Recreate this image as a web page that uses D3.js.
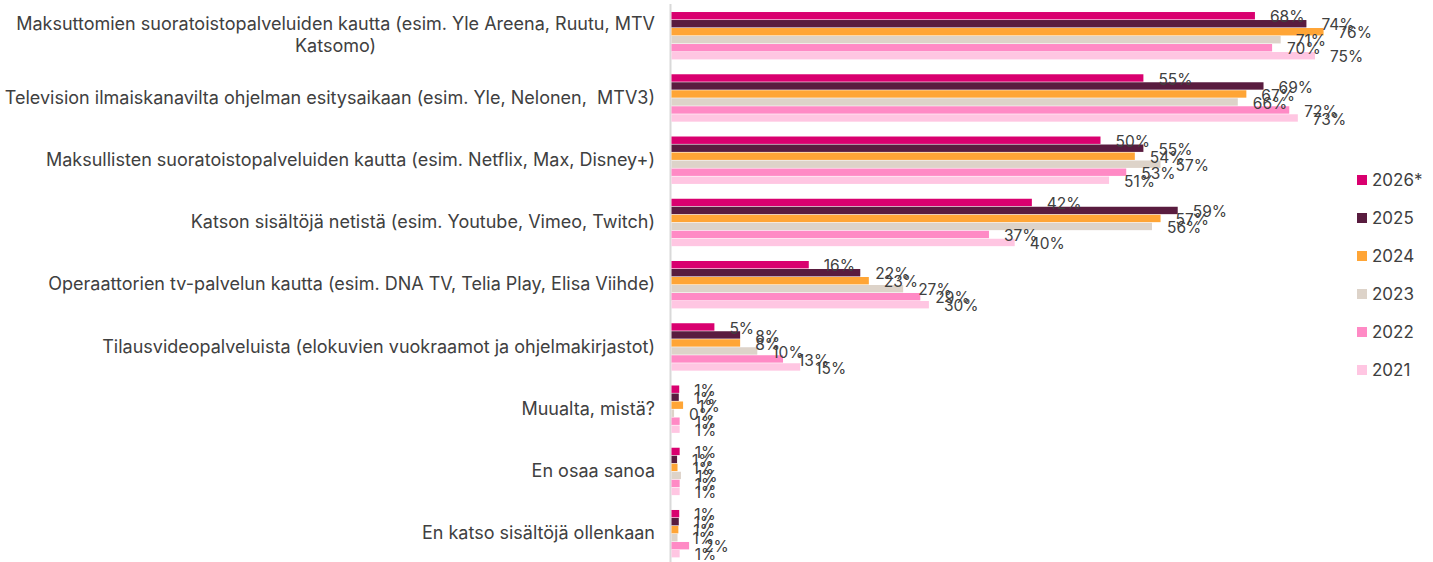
<!DOCTYPE html>
<html>
<head>
<meta charset="utf-8">
<script src="https://cdn.jsdelivr.net/npm/d3@7"></script>
<style>
  html, body { margin: 0; padding: 0; background: #fff; }
  svg { display: block; }
  text { white-space: pre; }
</style>
</head>
<body>
<svg id="chart" width="1433" height="562"></svg>
<script>
// ---- data ----
const categories = [
  ["Maksuttomien suoratoistopalveluiden kautta (esim. Yle Areena, Ruutu, MTV", "Katsomo)"],
  ["Television ilmaiskanavilta ohjelman esitysaikaan (esim. Yle, Nelonen,  MTV3)"],
  ["Maksullisten suoratoistopalveluiden kautta (esim. Netflix, Max, Disney+)"],
  ["Katson sisältöjä netistä (esim. Youtube, Vimeo, Twitch)"],
  ["Operaattorien tv-palvelun kautta (esim. DNA TV, Telia Play, Elisa Viihde)"],
  ["Tilausvideopalveluista (elokuvien vuokraamot ja ohjelmakirjastot)"],
  ["Muualta, mistä?"],
  ["En osaa sanoa"],
  ["En katso sisältöjä ollenkaan"]
];
const seriesNames = ["2026*", "2025", "2024", "2023", "2022", "2021"];
const seriesColors = ["#D9006F", "#591C3F", "#FFA536", "#DDD3C9", "#FF8AC5", "#FFC6E2"];
// values in percent, one array per series (same order as categories)
const v2026 = [68, 55, 50, 42, 16, 5, 0.9, 0.95, 0.9];
const v2025 = [74, 69, 55, 59, 22, 8, 0.85, 0.65, 0.85];
const v2024 = [76, 67, 54, 57, 23, 8, 1.35, 0.7, 0.8];
const v2023 = [71, 66, 57, 56, 27, 10, 0.3, 1.1, 0.7];
const v2022 = [70, 72, 53, 37, 29, 13, 0.95, 0.95, 2.05];
const v2021 = [75, 73, 51, 40, 30, 15, 0.95, 0.95, 0.95];
const seriesValues = [v2026, v2025, v2024, v2023, v2022, v2021];

// ---- layout ----
const svg = d3.select("#chart");
const font = "Inter, 'Noto Sans', sans-serif";
const catSize = 18;
const x = d3.scaleLinear().domain([0, 80]).range([671.5, 671.5 + 686.4]);
const keys = categories.map((c, i) => i);
const y0 = d3.scaleBand().domain(keys).range([4.9, 565.1]).padding(0);
const y1 = d3.scaleBand().domain(seriesNames).range([-24, 24]).padding(0);

// axis line
svg.append("line")
  .attr("x1", 670.5).attr("x2", 670.5)
  .attr("y1", 4).attr("y2", 562)
  .attr("stroke", "#D9D9D9").attr("stroke-width", 2);

// bars
const groups = svg.selectAll("g.grp").data(keys).enter().append("g")
  .attr("class", "grp")
  .attr("transform", d => `translate(0,${y0(d) + y0.bandwidth() / 2})`);

seriesNames.forEach((s, si) => {
  groups.append("rect")
    .attr("x", x(0))
    .attr("y", d => y1(s))
    .attr("width", d => x(seriesValues[si][d]) - x(0))
    .attr("height", y1.bandwidth() - 0.6)
    .attr("fill", seriesColors[si]);
});

// value labels
seriesNames.forEach((s, si) => {
  groups.append("text")
    .attr("x", d => x(seriesValues[si][d]) + 15)
    .attr("y", d => y1(s) + y1.bandwidth() / 2 + 1)
    .attr("dy", "0.35em")
    .attr("font-family", font)
    .attr("font-size", 15.5)
    .attr("fill", "#404040")
    .text(d => Math.round(seriesValues[si][d]) + "%");
});

// category labels
const labelRight = 655;
groups.each(function(d) {
  const g = d3.select(this);
  const lines = categories[d];
  if (lines.length === 1) {
    g.append("text")
      .attr("x", labelRight).attr("y", -1)
      .attr("dy", "0.35em")
      .attr("text-anchor", "end")
      .attr("font-family", font).attr("font-size", catSize)
      .attr("fill", "#404040")
      .text(lines[0]);
  } else {
    const t1 = g.append("text")
      .attr("x", labelRight).attr("y", -12)
      .attr("dy", "0.35em")
      .attr("text-anchor", "end")
      .attr("font-family", font).attr("font-size", catSize)
      .attr("fill", "#404040")
      .text(lines[0]);
    const w = t1.node().getComputedTextLength();
    g.append("text")
      .attr("x", labelRight - w / 2).attr("y", 10)
      .attr("dy", "0.35em")
      .attr("text-anchor", "middle")
      .attr("font-family", font).attr("font-size", catSize)
      .attr("fill", "#404040")
      .text(lines[1]);
  }
});

// legend
const legend = svg.append("g").attr("transform", "translate(1357,180)");
const ly = d3.scalePoint().domain(seriesNames).range([0, 190]);
seriesNames.forEach((s, si) => {
  legend.append("rect")
    .attr("x", 0).attr("y", ly(s) - 5)
    .attr("width", 10).attr("height", 10)
    .attr("fill", seriesColors[si]);
  legend.append("text")
    .attr("x", 15).attr("y", ly(s))
    .attr("dy", "0.35em")
    .attr("font-family", font).attr("font-size", 17)
    .attr("fill", "#404040")
    .text(s);
});
</script>
</body>
</html>
